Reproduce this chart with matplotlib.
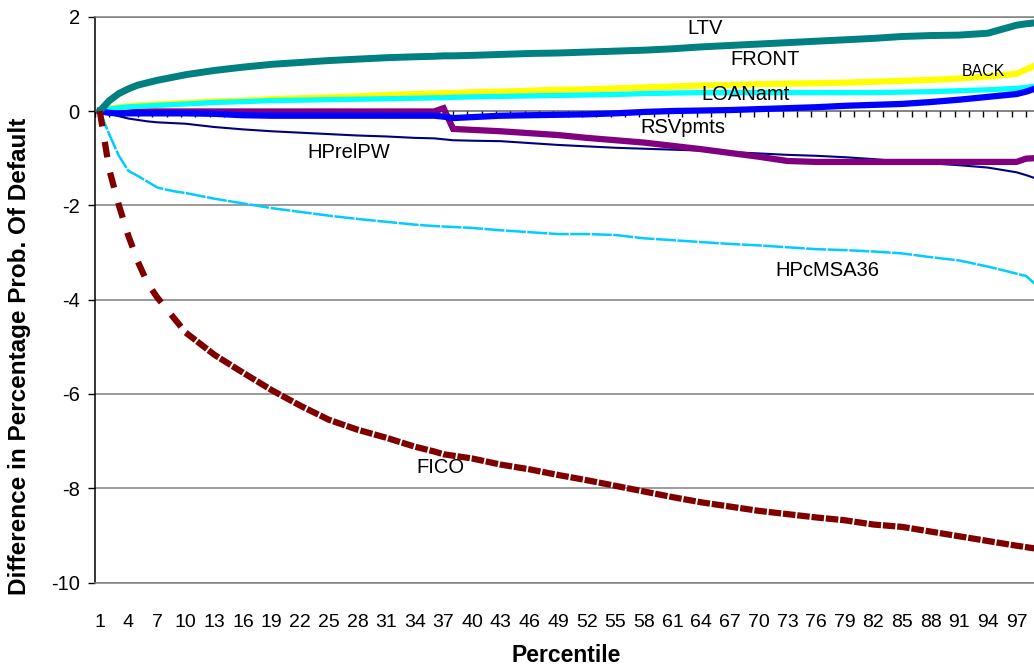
"""Difference in percentage probability of default by percentile, one line per driver."""

import matplotlib
matplotlib.use("Agg")
import matplotlib.pyplot as plt
import numpy as np

plt.rcParams["font.family"] = ["Liberation Sans", "DejaVu Sans"]
plt.rcParams["axes.unicode_minus"] = False

# percentile categories the values were read at
pct = [1, 2, 3, 4, 5, 6, 7, 8, 9, 10,
       13, 16, 19, 22, 25, 28, 31, 34,
       36, 37, 38,
       40, 43, 46, 49, 52, 55, 58, 61, 64, 67, 70, 73, 76, 79, 82, 85, 88, 91, 94, 97,
       98, 99]

ltv = [0, 0.22, 0.37, 0.47, 0.55, 0.60, 0.65, 0.69, 0.73, 0.77,
       0.86, 0.93, 0.99, 1.03, 1.07, 1.10, 1.13, 1.15,
       1.16, 1.17, 1.17,
       1.18, 1.20, 1.22, 1.23, 1.25, 1.27, 1.29, 1.32, 1.36, 1.39, 1.42, 1.45, 1.48, 1.51, 1.54,
       1.58, 1.60, 1.61, 1.65, 1.82,
       1.85, 1.87]

front = [0, 0.05, 0.08, 0.10, 0.12, 0.13, 0.14, 0.15, 0.16, 0.17,
         0.20, 0.22, 0.25, 0.27, 0.29, 0.31, 0.34, 0.36,
         0.37, 0.38, 0.38,
         0.40, 0.41, 0.43, 0.45, 0.46, 0.48, 0.50, 0.52, 0.54, 0.55, 0.57, 0.58, 0.59, 0.60, 0.62,
         0.64, 0.66, 0.69, 0.73, 0.79,
         0.88, 0.97]

loan_amt = [0, 0.04, 0.07, 0.09, 0.10, 0.11, 0.12, 0.13, 0.14, 0.15,
            0.18, 0.20, 0.22, 0.23, 0.24, 0.25, 0.26, 0.27,
            0.28, 0.28, 0.29,
            0.30, 0.31, 0.32, 0.33, 0.34, 0.35, 0.37, 0.38, 0.39, 0.39, 0.39, 0.39, 0.39, 0.39, 0.39,
            0.40, 0.41, 0.43, 0.45, 0.48,
            0.50, 0.53]

rsv_pmts = [0, -0.04, -0.05, -0.05, -0.05, -0.05, -0.05, -0.05, -0.05, -0.05,
            -0.06, -0.09, -0.10, -0.10, -0.10, -0.10, -0.10, -0.10,
            -0.10, -0.12, -0.15,
            -0.13, -0.10, -0.09, -0.08, -0.07, -0.05, -0.02, 0.00, 0.01, 0.02, 0.04, 0.06, 0.08, 0.11,
            0.13, 0.15, 0.19, 0.24, 0.30, 0.36,
            0.41, 0.48]

back = [0, -0.01, -0.01, -0.01, -0.01, -0.01, -0.01, -0.01, -0.01, -0.01,
        -0.01, -0.01, -0.01, -0.01, -0.01, -0.01, -0.01, -0.01,
        -0.01, 0.06, -0.38,
        -0.40, -0.43, -0.47, -0.51, -0.57, -0.62, -0.67, -0.74, -0.81, -0.89, -0.97, -1.06, -1.08,
        -1.08, -1.08, -1.08, -1.08, -1.08, -1.08, -1.08,
        -1.01, -1.00]

hprel_pw = [0, -0.06, -0.11, -0.16, -0.19, -0.22, -0.24, -0.25, -0.26, -0.27,
            -0.34, -0.39, -0.43, -0.46, -0.49, -0.52, -0.54, -0.57,
            -0.58, -0.60, -0.62,
            -0.63, -0.64, -0.68, -0.72, -0.75, -0.78, -0.80, -0.82, -0.84, -0.87, -0.90, -0.93, -0.95,
            -0.98, -1.02, -1.07, -1.11, -1.15, -1.20, -1.30,
            -1.36, -1.43]

hpc_msa36 = [0, -0.50, -0.95, -1.27, -1.38, -1.50, -1.62, -1.67, -1.71, -1.74,
             -1.86, -1.96, -2.06, -2.14, -2.22, -2.29, -2.35, -2.41,
             -2.44, -2.45, -2.46,
             -2.48, -2.53, -2.57, -2.61, -2.61, -2.63, -2.70, -2.74, -2.78, -2.82, -2.85, -2.89, -2.93,
             -2.95, -2.98, -3.02, -3.10, -3.17, -3.30, -3.45,
             -3.50, -3.68]

fico = [0, -1.25, -2.00, -2.65, -3.20, -3.65, -3.95, -4.20, -4.45, -4.70,
        -5.17, -5.55, -5.92, -6.25, -6.55, -6.76, -6.93, -7.12,
        -7.22, -7.28, -7.31,
        -7.37, -7.50, -7.60, -7.72, -7.83, -7.95, -8.07, -8.19, -8.30, -8.39, -8.48, -8.55, -8.62,
        -8.68, -8.77, -8.82, -8.92, -9.02, -9.12, -9.22,
        -9.25, -9.28]

line_labels = ["LTV", "FRONT", "BACK", "LOANamt", "RSVpmts", "HPrelPW", "HPcMSA36", "FICO"]
label_x = [64.4, 70.7, 93.5, 68.6, 62.1, 27.1, 77.2, 36.7]
label_y = [1.74, 1.10, 0.84, 0.36, -0.34, -0.89, -3.38, -7.56]

x_ticks = list(range(1, 98, 3))

fig = plt.figure(figsize=(10.34, 6.71), dpi=100)
ax = fig.add_axes([95 / 1034, 1 - 582.5 / 671, 939 / 1034, (582.5 - 16.7) / 671])
ax.set_xlim(0.5, 0.5 + 939 / 9.55)
ax.set_ylim(-10, 2)

# plot area frame and gridlines
for side in ["top", "bottom"]:
    ax.spines[side].set_color("#808080")
    ax.spines[side].set_linewidth(1.1)
ax.spines["right"].set_visible(False)
ax.spines["left"].set_color("black")
ax.spines["left"].set_linewidth(1.1)
ax.set_yticks(range(-10, 3, 2))
ax.yaxis.grid(True, color="#808080", linewidth=1.1)
ax.set_axisbelow(True)
ax.tick_params(axis="y", direction="out", length=5, width=1, labelsize=14.5, pad=6)

ax.set_xticks(x_ticks)
ax.set_xticklabels([str(t) for t in x_ticks])
ax.tick_params(axis="x", length=0, labelsize=14, pad=23)

# category axis crosses at zero, tick marks between categories
ax.axhline(0, color="#808080", linewidth=1.1, zorder=2)
ax.vlines(np.arange(0.5, 99, 1.5), -0.127, 0, colors="black", linewidth=1, zorder=2)

ax.plot(pct, hprel_pw, color="#000080", linewidth=1.5, zorder=3)
ax.plot(pct, hpc_msa36, color="#00CCFF", linewidth=1.8, dashes=(8, 0.6), zorder=3)
ax.plot(pct, back, color="#800080", linewidth=4.5, solid_joinstyle="miter", zorder=3.1)
ax.plot(pct, front, color="#FFFF00", linewidth=4.5, zorder=3.2)
ax.plot(pct, loan_amt, color="#00FFFF", linewidth=3.8, zorder=3.3)
ax.plot(pct, rsv_pmts, color="#0000FF", linewidth=4.5, zorder=3.4)
ax.plot(pct, ltv, color="#008080", linewidth=5, zorder=3.5)
# FICO: long dashes on the steep start, nearly solid afterwards
ax.plot(pct[:10], fico[:10], color="#800000", linewidth=4.5, dashes=(2.5, 2.5),
        dash_capstyle="butt", zorder=3.6)
ax.plot(pct[9:], fico[9:], color="#800000", linewidth=4.5, dashes=(2.0, 0.3),
        dash_capstyle="butt", zorder=3.6)

for name, lx, ly in zip(line_labels, label_x, label_y):
    size = 11.5 if name == "BACK" else 14.5
    ax.text(lx, ly, name, ha="center", va="center", fontsize=size, zorder=5)

fig.text(20 / 1034, 1 - 356 / 671, "Difference in Percentage Prob. Of Default",
         rotation=90, ha="center", va="center", fontsize=17.5, fontweight="bold")
fig.text(566 / 1034, 1 - 655 / 671, "Percentile", ha="center", va="center",
         fontsize=16.5, fontweight="bold")

fig.savefig("out.png", dpi=100)
